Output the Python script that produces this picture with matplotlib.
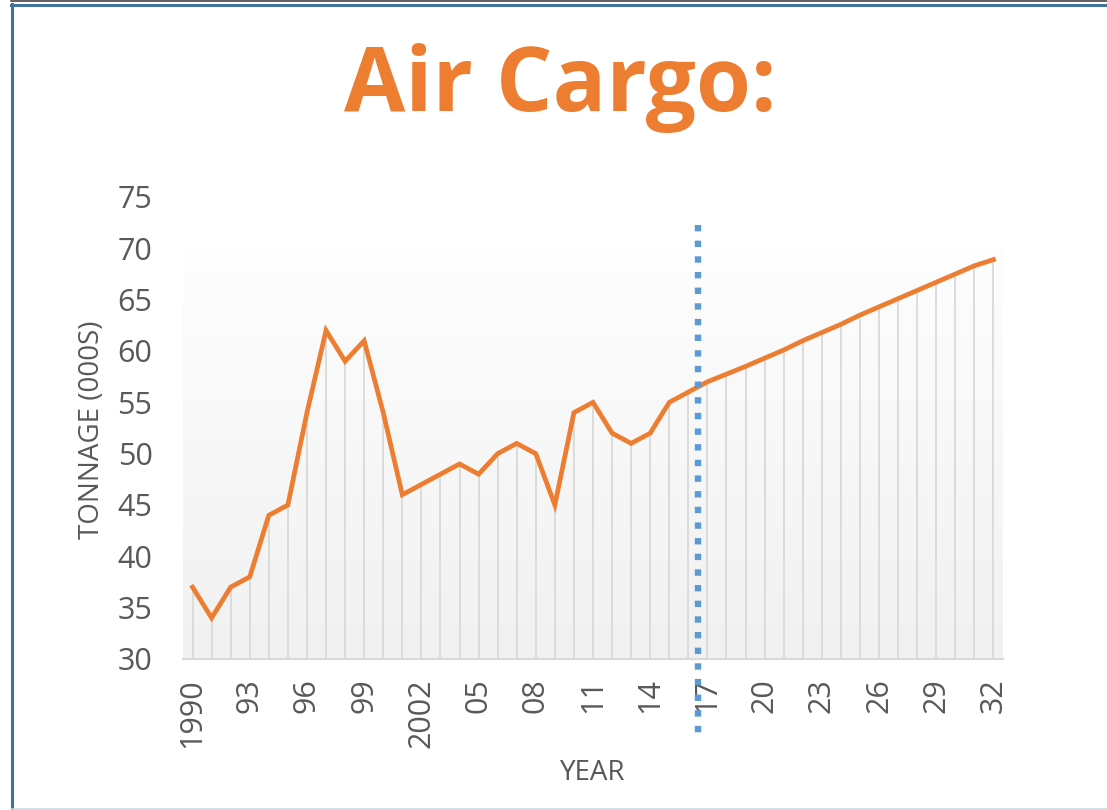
import numpy as np
import matplotlib
matplotlib.use("Agg")
import matplotlib.pyplot as plt
from matplotlib.lines import Line2D

plt.rcParams["font.family"] = ["Open Sans", "DejaVu Sans"]

# tonnage (000s), actual + projected
years = list(range(1990, 2033))
tonnage = [37, 34, 37, 38, 44, 45, 54, 62, 59, 61,
           54, 46, 47, 48, 49, 48, 50, 51, 50, 45,
           54, 55, 52, 51, 52, 55, 56, 57.0, 57.75, 58.5,
           59.3, 60.1, 61.0, 61.8, 62.6, 63.5, 64.3, 65.1, 65.9, 66.7,
           67.5, 68.3, 68.9]
tick_years = list(range(1990, 2033, 3))
tick_labels = ["1990", "93", "96", "99", "2002", "05", "08", "11", "14",
               "17", "20", "23", "26", "29", "32"]
forecast_year = 2016.5

W, H = 1107, 810
fig = plt.figure(figsize=(W / 100, H / 100), dpi=100)
ax = fig.add_axes([183 / W, 1 - 659 / H, 820 / W, 462 / H])

# gradient plot area
grad = np.linspace(0, 1, 256).reshape(-1, 1)
top = np.array([0.995, 0.995, 0.995])
bot = np.array([0.945, 0.945, 0.945])
img = top + (bot - top) * grad[:, :, None] * np.ones((1, 1, 3))
ax.imshow(img, extent=[1989.5, 2032.5, 30, 70], aspect="auto", zorder=0,
          origin="upper")

# drop lines
ax.vlines(years, 30, tonnage, color="#d9d9d9", lw=1.3, zorder=1)
ax.plot(years, tonnage, color="#ED7D31", lw=3.4, zorder=3,
        solid_joinstyle="miter")

# forecast marker
ax.plot([forecast_year, forecast_year], [72.3, 22.8], color="#5B9BD5",
        lw=4.6, dashes=(1, 1.45), dash_capstyle="butt", clip_on=False,
        zorder=4)

ax.set_xlim(1989.5, 2032.5)
ax.set_ylim(30, 75)
ax.set_yticks(range(30, 80, 5))
ax.set_xticks(tick_years)
ax.set_xticklabels(tick_labels, rotation=90)
ax.tick_params(axis="both", length=0, labelsize=22, colors="#595959")
ax.tick_params(axis="y", pad=22)
ax.tick_params(axis="x", pad=14)
for s in ["top", "right", "left"]:
    ax.spines[s].set_visible(False)
ax.spines["bottom"].set_color("#d9d9d9")
ax.spines["bottom"].set_linewidth(1.5)
ax.patch.set_visible(False)

fig.text(92 / W, 1 - 430 / H, "TONNAGE (000S)", rotation=90, ha="center",
         va="center", fontsize=20, color="#595959")
fig.text(593 / W, 1 - 773 / H, "YEAR", ha="center", va="center",
         fontsize=20, color="#595959")

fig.text(560 / W, 1 - 111 / H, "Air Cargo:", ha="center", va="baseline",
         fontsize=64, fontweight="bold", color="#ED7D31")

# slide frame
fig.add_artist(Line2D([11 / W, 1], [1 - 0.5 / H, 1 - 0.5 / H],
                      color="#444444", lw=1.2))
fig.add_artist(Line2D([11 / W, 1], [1 - 5 / H, 1 - 5 / H],
                      color="#41719C", lw=2.2))
fig.add_artist(Line2D([12 / W, 12 / W], [0, 1 - 4 / H],
                      color="#41719C", lw=2.2))
fig.add_artist(Line2D([12 / W, 1], [1.5 / H, 1.5 / H],
                      color="#d0d8e0", lw=1.2))

fig.savefig("out.png", dpi=100)
